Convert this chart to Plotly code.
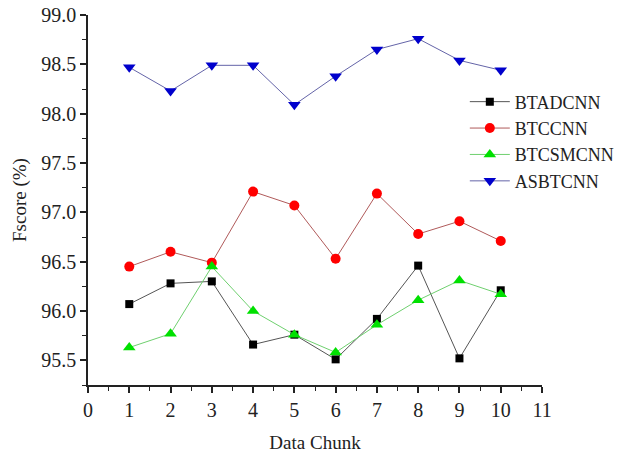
import plotly.graph_objects as go

chunks = [1, 2, 3, 4, 5, 6, 7, 8, 9, 10]
btadcnn = [96.07, 96.28, 96.30, 95.66, 95.76, 95.51, 95.92, 96.46, 95.52, 96.21]
btccnn = [96.45, 96.60, 96.49, 97.21, 97.07, 96.53, 97.19, 96.78, 96.91, 96.71]
btcsmcnn = [95.63, 95.77, 96.45, 96.00, 95.76, 95.58, 95.86, 96.11, 96.31, 96.17]
asbtcnn = [98.47, 98.23, 98.49, 98.49, 98.09, 98.38, 98.65, 98.76, 98.54, 98.44]

x_ticks = list(range(0, 12))
y_ticks = [95.5, 96.0, 96.5, 97.0, 97.5, 98.0, 98.5, 99.0]

FONT = "Liberation Serif"

series = [
    ("BTADCNN", btadcnn, "#555555", "#000000", "square", 8),
    ("BTCCNN", btccnn, "#b05a5a", "#ff0000", "circle", 10),
    ("BTCSMCNN", btcsmcnn, "#6fd06f", "#00e000", "triangle-up", 11),
    ("ASBTCNN", asbtcnn, "#6464a8", "#0000cc", "triangle-down", 11),
]

fig = go.Figure()
for name, vals, lc, mc, sym, sz in series:
    fig.add_trace(go.Scatter(
        x=chunks, y=vals, name=name, mode="lines+markers",
        line=dict(color=lc, width=1),
        marker=dict(color=mc, symbol=sym, size=sz, line=dict(width=0)),
    ))

fig.update_layout(
    width=630, height=453,
    margin=dict(l=88, r=88, t=15, b=68, autoexpand=False),
    paper_bgcolor="white", plot_bgcolor="white",
    font=dict(family=FONT, size=19, color="#222"),
    showlegend=True,
    legend=dict(x=0.83, y=0.815, xanchor="left", yanchor="top",
                bgcolor="rgba(0,0,0,0)", font=dict(size=18, family=FONT, color="#222"),
                tracegroupgap=0, itemwidth=40),
)
fig.update_xaxes(
    range=[0, 11], tickmode="array", tickvals=x_ticks,
    ticktext=[str(t) for t in x_ticks],
    showgrid=False, zeroline=False, showline=True, linecolor="#222", linewidth=1.5,
    ticks="outside", ticklen=6, tickwidth=1.5, tickcolor="#222",
    minor=dict(dtick=0.5, ticks="outside", ticklen=4, tickwidth=1.2, tickcolor="#222", showgrid=False),
    title=dict(text="Data Chunk", font=dict(size=19, family=FONT, color="#222"), standoff=26),
    tickfont=dict(size=20, family=FONT, color="#222"),
    ticklabelstandoff=0, automargin=False,
)
fig.update_yaxes(
    range=[95.25, 99.0], tickmode="array", tickvals=y_ticks,
    ticktext=[f"{t:.1f}" for t in y_ticks],
    showgrid=False, zeroline=False, showline=True, linecolor="#222", linewidth=1.5,
    ticks="outside", ticklen=6, tickwidth=1.5, tickcolor="#222",
    minor=dict(dtick=0.25, tick0=95.25, ticks="outside", ticklen=4, tickwidth=1.2, tickcolor="#222", showgrid=False),
    title=dict(text="Fscore (%)", font=dict(size=19, family=FONT, color="#222"), standoff=10),
    tickfont=dict(size=20, family=FONT, color="#222"),
    automargin=False,
)

fig.write_html("out.html")
